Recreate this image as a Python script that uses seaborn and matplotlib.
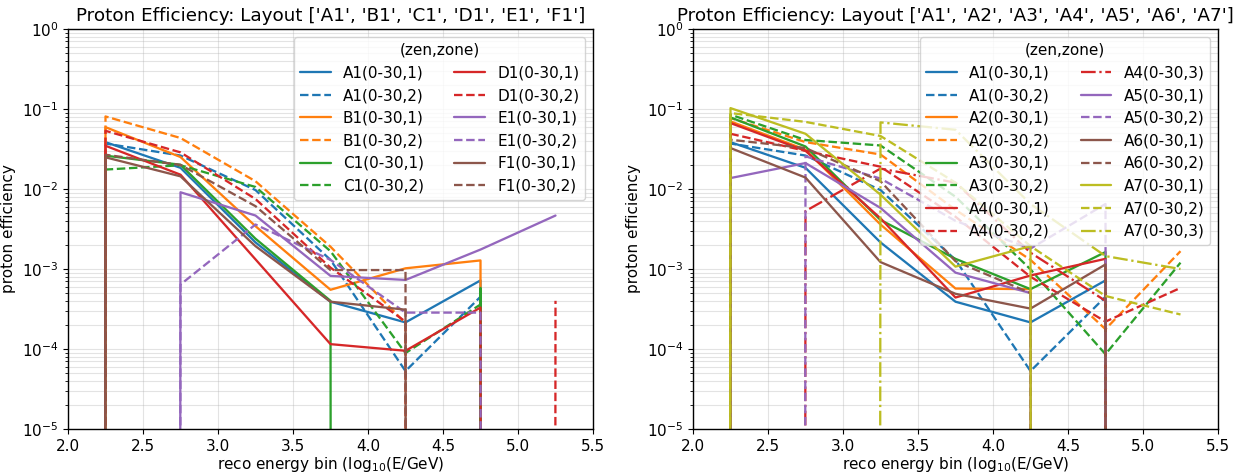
import numpy as np
import pandas as pd
import matplotlib
matplotlib.use("Agg")
import matplotlib.pyplot as plt
import seaborn as sns

# ---------------- data ----------------
energy_bins = [1.75, 2.25, 2.75, 3.25, 3.75, 4.25, 4.75, 5.25]

# left panel: layout A1..F1
A1_z1 = [0, 0.0385, 0.0184, 0.00215, 3.9e-4, 2.15e-4, 7.2e-4, 0]
A1_z2 = [0, 0.037, 0.0262, 0.0097, 1.3e-3, 5.3e-5, 4.5e-4, 0]
B1_z1 = [0, 0.0593, 0.0251, 0.00343, 5.5e-4, 1.02e-3, 1.28e-3, 0]
B1_z2 = [0, 0.0807, 0.0434, 0.0125, 1.9e-3, 2.1e-4, 0, 0]
C1_z1 = [0, 0.0261, 0.0201, 0.00239, 4.0e-4, 0, 5.8e-4, 0]
C1_z2 = [0, 0.0175, 0.0198, 0.0106, 1.67e-3, 8.9e-5, 3.6e-4, 0]
D1_z1 = [0, 0.0347, 0.0151, 0.00132, 1.15e-4, 9.5e-5, 3.3e-4, 0]
D1_z2 = [0, 0.0534, 0.0287, 0.0075, 1.04e-3, 2.2e-4, 0, 4.0e-4]
E1_z1 = [0, 0, 0.0091, 0.00466, 8.2e-4, 7.3e-4, 1.75e-3, 4.66e-3]
E1_z2 = [0, 0, 6.4e-4, 0.0036, 1.3e-3, 2.85e-4, 2.85e-4, 0]
F1_z1 = [0, 0.0249, 0.0144, 0.00193, 3.9e-4, 3.1e-4, 0, 0]
F1_z2 = [0, 0.0268, 0.020, 0.0061, 9.7e-4, 9.7e-4, 0, 0]

# right panel: layout A1..A7
A2_z1 = [0, 0.070, 0.031, 0.0036, 5.7e-4, 5.6e-4, 0, 0]
A2_z2 = [0, 0.077, 0.0386, 0.027, 5.5e-3, 1.3e-3, 1.77e-4, 1.67e-3]
A3_z1 = [0, 0.0785, 0.034, 0.0041, 1.34e-3, 5.6e-4, 1.63e-3, 0]
A3_z2 = [0, 0.085, 0.041, 0.035, 8e-3, 9.9e-4, 8.6e-5, 1.2e-3]
A4_z1 = [0, 0.0667, 0.030, 0.0043, 4.4e-4, 8.3e-4, 1.34e-3, 0]
A4_z2 = [0, 0.049, 0.030, 0.019, 4.5e-3, 8e-4, 2.2e-4, 5.8e-4]
A4_z3 = [0, 0, 5.3e-3, 0.018, 0.012, 1.6e-3, 4e-4, 0]
A5_z1 = [0, 0.0137, 0.0211, 0.0058, 9.0e-4, 5.0e-4, 0, 0]
A5_z2 = [0, 0, 0.0256, 0.0135, 4e-3, 1.8e-3, 6.5e-3, 0]
A6_z1 = [0, 0.0325, 0.0139, 0.00122, 4.9e-4, 3.2e-4, 1.14e-3, 0]
A6_z2 = [0, 0.0413, 0.0325, 0.0125, 1.25e-3, 5.0e-4, 0, 0]
A7_z1 = [0, 0.1026, 0.049, 0.0085, 1.07e-3, 1.93e-3, 0, 0]
A7_z2 = [0, 0.089, 0.069, 0.046, 0.012, 1.93e-3, 4.6e-4, 2.7e-4]
A7_z3 = [0, 0, 0, 0.068, 0.055, 6.5e-3, 1.45e-3, 1.0e-3]

left_layouts = ['A1', 'B1', 'C1', 'D1', 'E1', 'F1']
right_layouts = ['A1', 'A2', 'A3', 'A4', 'A5', 'A6', 'A7']
zen_label = '0-30'

left_series = [
    ('A1', 1, A1_z1), ('A1', 2, A1_z2), ('B1', 1, B1_z1), ('B1', 2, B1_z2),
    ('C1', 1, C1_z1), ('C1', 2, C1_z2), ('D1', 1, D1_z1), ('D1', 2, D1_z2),
    ('E1', 1, E1_z1), ('E1', 2, E1_z2), ('F1', 1, F1_z1), ('F1', 2, F1_z2),
]
right_series = [
    ('A1', 1, A1_z1), ('A1', 2, A1_z2), ('A2', 1, A2_z1), ('A2', 2, A2_z2),
    ('A3', 1, A3_z1), ('A3', 2, A3_z2), ('A4', 1, A4_z1), ('A4', 2, A4_z2),
    ('A4', 3, A4_z3), ('A5', 1, A5_z1), ('A5', 2, A5_z2), ('A6', 1, A6_z1),
    ('A6', 2, A6_z2), ('A7', 1, A7_z1), ('A7', 2, A7_z2), ('A7', 3, A7_z3),
]

# ---------------- style ----------------
sns.set_style("ticks")
plt.rcParams.update({
    "font.family": ["DejaVu Sans"],
    "font.size": 11,
    "axes.edgecolor": "black",
    "axes.labelcolor": "black",
    "text.color": "black",
    "xtick.color": "black",
    "ytick.color": "black",
    "xtick.labelsize": 11,
    "ytick.labelsize": 11,
    "axes.labelsize": 11,
    "axes.titlesize": 13.2,
    "legend.fontsize": 11,
    "legend.title_fontsize": 11,
    "axes.linewidth": 1.0,
    "xtick.direction": "out",
    "ytick.direction": "out",
})

pal = sns.color_palette("tab10")
layout_color = {
    'A1': pal[0], 'B1': pal[1], 'C1': pal[2], 'D1': pal[3], 'E1': pal[4], 'F1': pal[5],
    'A2': pal[1], 'A3': pal[2], 'A4': pal[3], 'A5': pal[4], 'A6': pal[5], 'A7': pal[8],
}
zone_style = {1: '-', 2: '--', 3: '-.'}

W, H = 1244, 473
fig = plt.figure(figsize=(W / 100, H / 100), dpi=100)
ax_l = fig.add_axes([68 / W, 44 / H, 525 / W, 400 / H])
ax_r = fig.add_axes([693 / W, 44 / H, 525 / W, 400 / H])


def draw(ax, series, layouts):
    for lay, zone, vals in series:
        df = pd.DataFrame({"E": energy_bins, "eff": vals})
        sns.lineplot(data=df, x="E", y="eff", ax=ax, estimator=None, sort=False,
                     color=layout_color[lay], linestyle=zone_style[zone],
                     linewidth=1.65, label=f"{lay}({zen_label},{zone})", legend=False)
    ax.set_yscale("log")
    ax.set_ylim(1e-5, 1)
    ax.set_xlim(2.0, 5.5)
    ax.set_xticks(np.arange(2.0, 5.51, 0.5))
    ax.grid(True, which="both", color="#b0b0b0", alpha=0.35, linewidth=0.8)
    ax.set_xlabel(r"reco energy bin (log$_{10}$(E/GeV)", labelpad=1)
    ax.set_ylabel("proton efficiency")
    ax.set_title(f"Proton Efficiency: Layout {layouts}")
    ax.legend(title="(zen,zone)", ncol=2, loc="upper right")


draw(ax_l, left_series, left_layouts)
draw(ax_r, right_series, right_layouts)

fig.savefig("out.png", dpi=100)
